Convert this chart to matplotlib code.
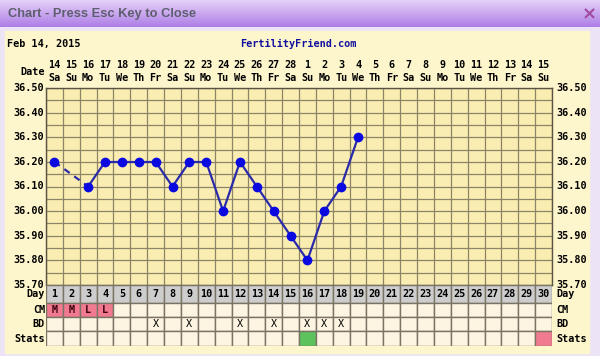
import numpy as np
import matplotlib.pyplot as plt
from matplotlib.colors import LinearSegmentedColormap

# chart values
days = list(range(1, 31))
date_nums = ["14", "15", "16", "17", "18", "19", "20", "21", "22", "23", "24", "25", "26", "27", "28",
             "1", "2", "3", "4", "5", "6", "7", "8", "9", "10", "11", "12", "13", "14", "15"]
weekdays = ["Sa", "Su", "Mo", "Tu", "We", "Th", "Fr", "Sa", "Su", "Mo", "Tu", "We", "Th", "Fr", "Sa",
            "Su", "Mo", "Tu", "We", "Th", "Fr", "Sa", "Su", "Mo", "Tu", "We", "Th", "Fr", "Sa", "Su"]
temp_days = [1, 3, 4, 5, 6, 7, 8, 9, 10, 11, 12, 13, 14, 15, 16, 17, 18, 19]
temps = [36.20, 36.10, 36.20, 36.20, 36.20, 36.20, 36.10, 36.20, 36.20, 36.00,
         36.20, 36.10, 36.00, 35.90, 35.80, 36.00, 36.10, 36.30]
temp_ticks = [36.50, 36.40, 36.30, 36.20, 36.10, 36.00, 35.90, 35.80, 35.70]
cm_days = [1, 2, 3, 4]
cm_values = ["M", "M", "L", "L"]
bd_days = [7, 9, 12, 14, 16, 17, 18]
stats_green = [16]
stats_pink = [30]

W, H = 600, 356
MONO = "DejaVu Sans Mono"
FS = 7.3


def rect(x, y, w, h):
    return [x / W, 1 - (y + h) / H, w / W, h / H]


fig = plt.figure(figsize=(W / 100, H / 100), dpi=100)
fig.patch.set_facecolor("#ece4f6")

# window title bar and panel
bg = fig.add_axes([0, 0, 1, 1])
bg.axis("off")
grad = np.linspace(0, 1, 50).reshape(-1, 1)
cmap = LinearSegmentedColormap.from_list("tb", ["#e4d0f8", "#ae7ee6"])
bg.imshow(grad, extent=(0, W, 27, 0), cmap=cmap, aspect="auto", zorder=0)
bg.set_xlim(0, W)
bg.set_ylim(H, 0)
bg.add_patch(plt.Rectangle((5, 31), 584, 322, color="#fdf5cc", zorder=1))
bg.text(8, 14, "Chart - Press Esc Key to Close", fontsize=9.3, color="#5e5e6e",
        family="Liberation Sans", fontweight="bold", va="center", ha="left")
bg.text(589, 14, "×", fontsize=13, color="#a24aa0", fontweight="bold", va="center", ha="center")
bg.text(7, 44, "Feb 14, 2015", family=MONO, fontweight="bold", fontsize=FS, va="center")
bg.text(298, 44, "FertilityFriend.com", family=MONO, fontweight="bold", fontsize=FS,
        color="#1010a0", va="center", ha="center")

# temperature grid
ax = fig.add_axes(rect(46, 88, 506, 197))
ax.set_facecolor("#faedb2")
ax.set_xlim(0.5, 30.5)
ax.set_ylim(35.70, 36.50)
ax.set_xticks(np.arange(0.5, 31, 1))
ax.set_yticks(np.arange(35.70, 36.51, 0.05))
ax.grid(True, color="#8c8466", linewidth=0.9)
ax.tick_params(axis="x", length=0, labelbottom=False)
ax.tick_params(axis="y", length=0, labelleft=False)
for s in ax.spines.values():
    s.set_color("#5a5444")
    s.set_linewidth(1)

for i in range(len(temp_days) - 1):
    d0, d1 = temp_days[i], temp_days[i + 1]
    ls = "-" if d1 - d0 == 1 else (0, (3, 2.5))
    ax.plot([d0, d1], [temps[i], temps[i + 1]], color="#2a2aaa", lw=1.6, ls=ls, zorder=3)
ax.plot(temp_days, temps, "o", color="#0a0ae0", ms=6, zorder=4)

for t in temp_ticks:
    yy = 88 + (36.50 - t) / 0.80 * 197
    bg.text(44, yy, f"{t:.2f}", family=MONO, fontweight="bold", fontsize=FS, ha="right", va="center")
    bg.text(556, yy, f"{t:.2f}", family=MONO, fontweight="bold", fontsize=FS, ha="left", va="center")

# date header
for d, n, wd in zip(days, date_nums, weekdays):
    xx = 46 + (d - 0.5) * 506 / 30
    bg.text(xx, 65, n, family=MONO, fontweight="bold", fontsize=FS, ha="center", va="center")
    bg.text(xx, 78, wd, family=MONO, fontweight="bold", fontsize=FS, ha="center", va="center")
bg.text(45, 72, "Date", family=MONO, fontweight="bold", fontsize=FS, ha="right", va="center")

# table rows below the chart
tb = fig.add_axes(rect(46, 285, 506, 61))
tb.set_xlim(0.5, 30.5)
tb.set_ylim(61, 0)
tb.axis("off")
rows = [("Day", 0, 18), ("CM", 18, 14), ("BD", 32, 14), ("Stats", 46, 15)]
for name, top, h in rows:
    if name == "Day":
        cols = ["#cdcdcd"] * 30
    else:
        cols = ["#fdf4e2"] * 30
    if name == "CM":
        for d in cm_days:
            cols[d - 1] = "#f27a90"
    if name == "Stats":
        for d in stats_green:
            cols[d - 1] = "#5cc25c"
        for d in stats_pink:
            cols[d - 1] = "#f27a90"
    tb.bar(days, [h] * 30, bottom=top, width=1, color=cols, edgecolor="#7a7464", linewidth=1)
    yy = 285 + top + h / 2
    bg.text(45, yy, name, family=MONO, fontweight="bold", fontsize=FS, ha="right", va="center")
    bg.text(556, yy, name, family=MONO, fontweight="bold", fontsize=FS, ha="left", va="center")

for d in days:
    tb.text(d, 9, str(d), family=MONO, fontweight="bold", fontsize=FS, ha="center", va="center")
for d, v in zip(cm_days, cm_values):
    tb.text(d, 25, v, family=MONO, fontweight="bold", fontsize=FS, ha="center", va="center",
            color="#3a0010")
for d in bd_days:
    tb.text(d, 39, "X", family=MONO, fontsize=FS, ha="center", va="center")

fig.savefig("out.png", dpi=100)
